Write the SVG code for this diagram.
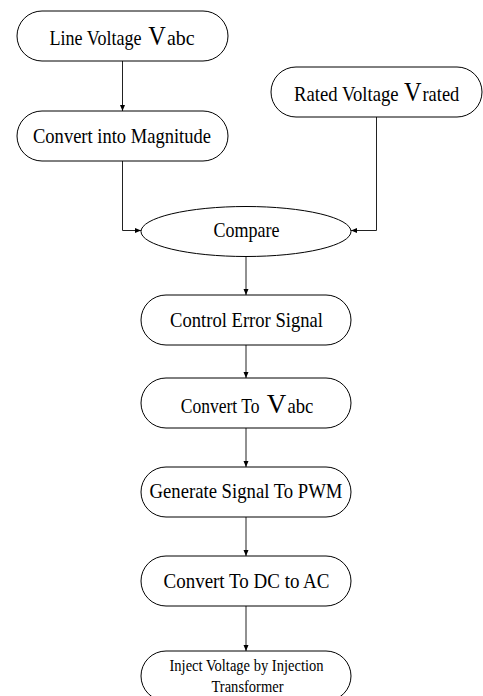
<svg xmlns="http://www.w3.org/2000/svg" width="483" height="696" viewBox="0 0 483 696">
<defs>
<style>
.box{fill:#fff;stroke:#000;stroke-width:1}
.t{font-family:"Liberation Serif","Times New Roman",serif;font-size:21px;fill:#000}
.s{font-size:16px}
.big{font-size:27px}
.c{fill:none;stroke:#222;stroke-width:1}
</style>
<marker id="ah" markerUnits="userSpaceOnUse" markerWidth="6" markerHeight="6" refX="6" refY="3" orient="auto">
<path d="M0,0.5 L6,3 L0,5.5 z" fill="#000"/>
</marker>
</defs>
<rect width="483" height="696" fill="#fff"/>
<g id="connectors">
<path class="c" d="M122.5,61 V111" marker-end="url(#ah)"/>
<path class="c" d="M122.5,161 V230.5 H141" marker-end="url(#ah)"/>
<path class="c" d="M376.5,117 V230.5 H351" marker-end="url(#ah)"/>
<path class="c" d="M246,256.5 V295" marker-end="url(#ah)"/>
<path class="c" d="M246,345 V378" marker-end="url(#ah)"/>
<path class="c" d="M246,428 V467" marker-end="url(#ah)"/>
<path class="c" d="M246,517 V556" marker-end="url(#ah)"/>
<path class="c" d="M246,606 V651" marker-end="url(#ah)"/>
</g>
<g id="n1">
<rect class="box" x="17" y="11" width="211" height="50" rx="25"/>
<text class="t" transform="translate(49.5,45) scale(0.86,1)">Line Voltage</text>
<text class="t big" transform="translate(148.3,45) scale(0.9,1)">V</text>
<text class="t" transform="translate(167,45) scale(0.95,1)">abc</text>
</g>
<g id="n2">
<rect class="box" x="17" y="111" width="211" height="50" rx="25"/>
<text class="t" x="33" y="143" textLength="178" lengthAdjust="spacingAndGlyphs">Convert into Magnitude</text>
</g>
<g id="n3">
<rect class="box" x="271" y="67" width="211" height="50" rx="25"/>
<text class="t" transform="translate(294,101) scale(0.89,1)">Rated Voltage</text>
<text class="t big" transform="translate(404,101) scale(0.9,1)">V</text>
<text class="t" transform="translate(422.5,101) scale(0.876,1)">rated</text>
</g>
<g id="n4">
<ellipse class="box" cx="246" cy="231.5" rx="105" ry="25"/>
<text class="t" x="213.5" y="237" textLength="66" lengthAdjust="spacingAndGlyphs">Compare</text>
</g>
<g id="n5">
<rect class="box" x="141" y="295" width="210" height="50" rx="25"/>
<text class="t" x="170" y="327" textLength="153" lengthAdjust="spacingAndGlyphs">Control Error Signal</text>
</g>
<g id="n6">
<rect class="box" x="141" y="378" width="210" height="50" rx="25"/>
<text class="t" transform="translate(180.7,413) scale(0.835,1)">Convert To</text>
<text class="t big" transform="translate(266.7,413)">V</text>
<text class="t" transform="translate(287.5,413) scale(0.89,1)">abc</text>
</g>
<g id="n7">
<rect class="box" x="141" y="467" width="210" height="50" rx="25"/>
<text class="t" x="149.5" y="498" textLength="193" lengthAdjust="spacingAndGlyphs">Generate Signal To PWM</text>
</g>
<g id="n8">
<rect class="box" x="141" y="556" width="210" height="50" rx="25"/>
<text class="t" x="163.5" y="588" textLength="166" lengthAdjust="spacingAndGlyphs">Convert To DC to AC</text>
</g>
<g id="n9">
<rect class="box" x="141" y="651" width="210" height="50" rx="25"/>
<text class="t s" x="169.5" y="671" textLength="154" lengthAdjust="spacingAndGlyphs">Inject Voltage by Injection</text>
<text class="t s" x="211.5" y="692" textLength="72" lengthAdjust="spacingAndGlyphs">Transformer</text>
</g>
</svg>
